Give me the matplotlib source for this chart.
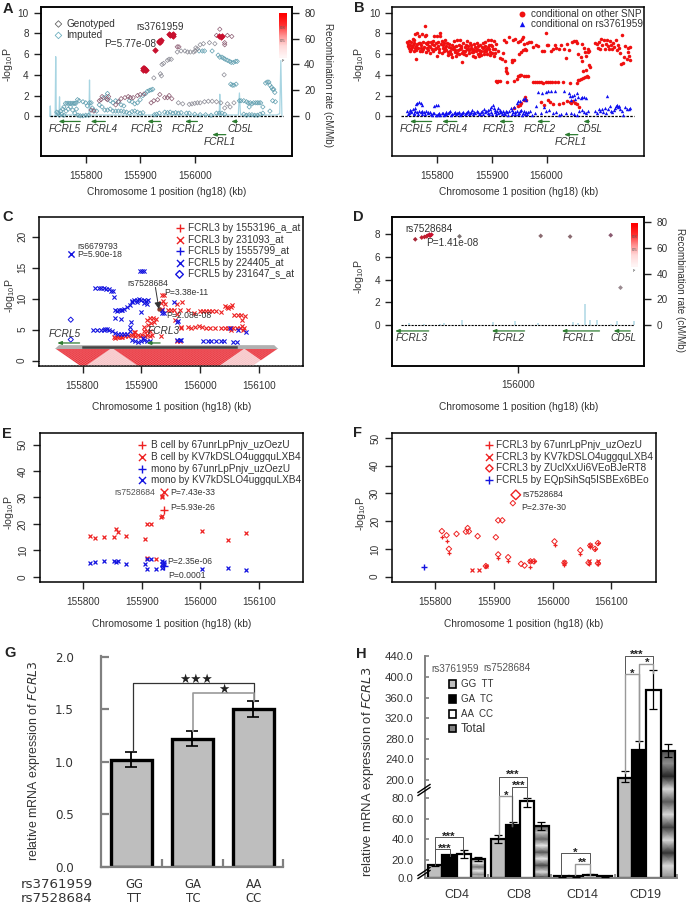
import numpy as np
import matplotlib
matplotlib.use('Agg')
import matplotlib.pyplot as plt
from matplotlib.colors import LinearSegmentedColormap
from matplotlib.lines import Line2D
from matplotlib.patches import Polygon, Rectangle

plt.rcParams['font.family'] = ['Liberation Sans', 'DejaVu Sans']
plt.rcParams['mathtext.default'] = 'regular'
W, H = 686, 906
TXT = '#333333'

# ---------- panel A ----------
A_red = [(155905,4.5),(155906,4.65),(155907,4.7),(155908,4.5),(155909,4.6),(155911,4.45),(155928,6.4),(155934,7.2),(155935,7.3),(155936,7.25),(155937,7.2),(155938,7.35),(155953,7.9),(155955,7.85),(155958,7.8),(155960,7.7),(155961,7.9),(156045,7.7),(156048,7.6),(156050,7.7)]
A_mauve = [(155968,6.7),(155971,6.7),(156046,8.4),(156040,7.8),(156055,7.1),(156055,6.9),(156060,7.8),(156068,7.7),(155810,0.6),(155815,0.5),(155825,1.5),(155828,1.6),(155830,1.9),(155838,1.7),(155840,1.6),(155842,1.9),(155855,1.1),(155860,1.4),(155865,1.7),(155872,1.8),(155878,1.9),(155882,1.8),(155887,1.8),(155895,2.0),(155900,2.1),(155907,2.15),(155920,1.3),(155925,1.5),(155932,1.6),(155936,2.1),(155945,1.8),(155950,1.8),(155953,2.0),(155958,1.7)]
A_grey = [(155925,3.7),(155937,4.1),(155939,3.9),(155940,5.0),(155943,5.1),(155950,5.4),(155953,5.5),(155957,5.5),(155968,6.2),(155975,6.3),(155982,6.3),(155987,6.2),(155992,6.2),(155998,6.2),(156001,6.3),(156005,6.5),(156002,6.6),(156010,6.9),(156016,7.0),(156027,7.1),(156037,7.0),(156054,4.0),(155970,1.3),(155978,1.2),(155990,1.15),(155995,1.2),(156000,1.25),(156005,1.3),(156010,1.3),(156018,1.4),(156025,1.45),(156032,1.45),(156040,1.4),(156048,1.3),(156055,0.8),(156065,0.9),(156060,1.2),(156072,1.3)]
A_teal = [(156008,6.3),(156014,6.3),(156018,6.3),(156032,6.3),(156043,5.9),(156046,5.7),(156050,5.7),(156053,5.6),(156056,5.5),(156060,5.4),(156064,5.3),(156067,5.2),(156071,5.2),(156075,5.3),(156078,5.3),(156066,3.1),(156069,3.0),(156072,3.0),(156076,3.1),
(155747,0.4),(155750,0.3),(155752,0.1),(155754,0.5),(155756,0.2),(155758,0.7),(155760,0.9),(155760,0.1),(155763,1.25),(155766,1.25),(155769,1.25),(155772,1.25),(155775,1.25),(155778,1.25),(155780,1.25),(155782,1.25),(155764,0.5),(155768,0.7),(155772,0.9),(155776,0.6),(155780,0.3),(155783,0.7),(155786,0.1),(155790,0.05),(155795,0.05),(155800,0.1),(155805,0.1),(155785,1.6),(155788,1.5),(155795,1.4),(155800,1.3),(155803,1.0),(155807,1.3),(155810,1.3),(155812,0.8),(155815,0.6),(155820,0.5),(155825,1.1),(155830,0.9),(155833,1.8),(155838,1.9),(155840,2.2),(155845,1.5),(155850,1.3),(155855,1.5),(155860,1.4),(155865,1.1),(155870,1.0),(155835,0.6),(155840,0.6),(155845,0.7),(155850,0.5),(155855,0.5),(155860,0.5),(155865,0.5),(155870,0.45),(155875,0.4),(155880,0.3),(155885,0.45),(155890,0.5),(155895,0.4),(155900,0.3),(155905,0.35),(155880,1.5),(155885,1.4),(155890,1.2),(155895,1.3),(155900,1.6),(155905,2.0),(155910,2.2),(155913,2.4),(155917,2.5),(155920,2.55),(155923,2.6),(155926,0.15),(155930,0.2),(155935,0.3),(155945,0.4),(155950,0.35),(155955,0.4),(155960,0.3),(155965,0.35),(155970,0.3),(155975,0.35),(155985,0.3),(155990,0.3),(156000,0.2),(156010,0.15),(156020,0.15),(156030,0.1),(156040,0.3),(156045,0.3),(156050,0.3),(156055,0.2),
(156082,1.5),(156085,1.5),(156090,1.5),(156095,1.4),(156098,1.3),(156102,1.3),(156105,1.2),(156108,1.3),(156112,1.3),(156115,1.3),(156118,1.3),(156121,1.3),(156125,0.9),(156130,3.2),(156133,3.3),(156136,3.3),(156138,3.0),(156141,2.8),(156143,2.6),(156145,2.6),(156147,2.3),(156143,1.5),(156148,1.4),(156138,0.5),(156090,0.2),(156095,0.1),(156100,0.15),(156105,0.15),(156110,0.1),(156115,0.1),(156120,0.2),(156125,0.3),(156100,0.9)]
recomb_A = [(155734,0),(155735,8),(155736,0),(155744,0),(155745,46),(155746,0),(155751,1),(155752,15),(155753,1),(155775,1),(155795,1),(155806,1),(155807,28),(155808,1),(155830,1),(155860,1),(155900,1),(155940,1),(155980,1),(156020,1),(156045,1),(156046,17),(156047,1),(156060,1),(156080,1),(156082,18),(156084,1),(156100,1),(156130,1),(156150,1),(156156,2),(156158,43),(156160,0)]
genes_AB = ['FCRL5','FCRL4','FCRL3','FCRL2','FCRL1','CD5L']
gene_start_AB = [155750,155809,155913,155982,156032,156067]
gene_end_AB = [155790,155836,155937,156005,156057,156078]
gene_row_AB = [0,0,0,0,1,0]
gene_label_A = [155761,155829,155912,155988,156046,156084]
gene_label_B = [155760,155826,155913,155987,156045,156079]

# ---------- panel B ----------
B_red = [(155745,7.2),(155746,6.8),(155748,7.3),(155749,6.6),(155750,6.9),(155751,6.3),(155752,7.2),(155753,6.5),(155755,7.5),(155756,6.9),(155757,6.3),(155758,7.1),(155759,6.6),(155760,7.9),(155761,5.5),(155762,6.4),(155763,7.0),(155764,8.0),(155765,6.6),(155767,7.7),(155768,6.3),(155769,7.1),(155770,6.6),(155772,7.9),(155773,6.3),(155775,7.2),(155776,6.7),(155777,7.7),(155778,8.75),(155779,6.2),(155780,7.8),(155782,7.0),(155783,6.4),(155785,6.8),(155786,6.1),(155788,7.2),(155790,6.5),(155791,7.0),(155793,7.3),(155795,7.7),(155796,6.5),(155798,7.1),(155799,5.8),(155800,7.7),(155802,6.8),(155803,6.2),(155805,8.0),(155806,7.7),(155807,7.0),(155808,6.1),(155810,6.6),(155812,6.3),(155813,7.1),(155815,7.4),(155816,6.8),(155818,7.1),(155819,6.2),(155820,5.9),(155822,6.7),(155824,6.3),(155825,6.0),(155827,5.7),(155829,6.5),(155830,7.3),(155832,6.2),(155834,5.8),(155835,6.8),(155837,7.4),(155838,6.4),(155840,6.0),(155842,7.4),(155843,6.6),(155845,6.1),(155846,5.2),(155848,7.1),(155850,6.7),(155851,6.3),(155853,5.9),(155855,7.3),(155856,6.5),(155858,6.1),(155860,7.1),(155861,6.6),(155863,6.2),(155865,5.8),(155867,7.0),(155868,6.4),(155870,5.7),(155872,7.1),(155873,6.5),(155875,6.0),(155876,5.8),(155878,6.9),(155880,6.3),(155881,5.9),(155883,7.1),(155884,6.6),(155886,6.0),(155888,7.2),(155889,6.5),(155891,6.0),(155893,7.4),(155894,6.9),(155896,6.2),(155897,5.9),(155899,7.4),(155900,6.8),(155901,6.1),(155903,7.3),(155904,5.8),(155905,6.5),
(155747,7.0),(155750,6.4),(155754,6.7),(155757,7.4),(155761,6.8),(155766,7.1),(155771,6.9),(155774,6.5),(155779,7.1),(155781,6.6),(155784,7.2),(155787,6.7),(155792,6.3),(155794,6.9),(155797,6.6),(155801,7.2),(155804,6.5),(155809,7.3),(155811,6.9),(155814,6.6),(155817,6.4),(155821,7.0),(155823,6.1),(155826,6.6),(155828,6.9),(155831,6.7),(155833,6.4),(155836,6.1),(155839,6.9),(155841,6.5),(155844,6.8),(155847,6.3),(155849,6.0),(155852,6.9),(155854,6.5),(155857,6.8),(155859,6.4),(155862,6.9),(155864,6.5),(155866,6.2),(155869,6.7),(155871,6.3),(155874,6.8),(155877,6.4),(155879,6.1),(155882,6.7),(155885,6.3),(155887,6.8),(155890,6.3),(155892,6.7),(155895,6.5),(155898,6.9),(155902,6.5),(155906,6.1),
(155908,3.4),(155910,3.35),(155912,3.4),(155914,3.45),(155908,7.0),(155912,6.3),(155915,5.6),(155918,5.5),(155920,6.1),(155922,7.4),(155924,5.3),(155925,4.7),(155926,4.4),(155928,4.2),(155928,3.3),(155926,7.2),(155932,7.6),(155936,5.2),(155937,5.4),(155940,5.4),(155938,7.4),(155940,3.4),(155942,7.5),(155945,3.6),(155947,3.9),(155950,3.9),(155952,4.0),(155954,4.0),(155958,3.9),(155962,3.9),(155966,3.9),(155948,7.2),(155952,7.3),(155955,7.5),(155957,7.6),(155950,6.0),(155953,6.2),(155956,6.4),(155960,6.5),(155962,6.4),(155958,7.0),(155964,7.1),(155968,7.2),(155972,7.2),(155975,6.7),(155980,6.9),(155985,6.8),(155975,3.3),(155978,3.3),(155982,3.3),(155986,3.3),(155990,3.3),(155994,3.2),(155998,3.3),(156002,3.3),(156006,3.3),(156010,3.3),(156015,3.3),(156020,3.3),(155992,6.3),(155995,6.3),(156000,6.9),(155998,8.0),(156002,6.9),(156008,6.3),(156012,6.5),(156015,6.9),(156018,6.6),(156022,6.5),(156027,6.9),(156032,6.5),(156030,3.3),(156035,5.6),(156038,7.0),(156040,6.4),(156043,3.2),(156047,7.2),(156050,7.3),(156053,7.3),(156055,7.1),(156058,3.5),(156055,3.2),(156060,3.5),(156058,6.0),(156062,5.7),(156065,5.3),(156062,3.6),(156066,3.7),(156070,3.8),(156073,3.9),(156076,3.8),(156067,4.4),(156068,6.6),(156070,6.2),(156072,5.8),(156072,4.5),(156077,4.9),(156075,6.5),(156078,6.3),(156080,4.8),(156065,7.0),(156075,6.2),
(156088,7.1),(156092,7.0),(156094,6.6),(156096,7.2),(156098,6.5),(156100,7.5),(156102,6.9),(156104,7.4),(156106,6.5),(156108,7.0),(156110,7.4),(156112,6.8),(156114,6.5),(156116,7.3),(156118,6.9),(156120,6.5),(156122,7.1),(156124,6.7),(156126,7.4),(156128,6.4),(156130,6.9),(156132,6.6),(156134,6.1),(156136,5.0),(156138,7.8),(156139,5.1),(156141,5.7),(156144,6.8),(156146,5.5),(156148,6.2),(156149,6.6),(156150,5.8),(156152,5.4),(156153,6.7),
(155948,1.0),(155951,1.1),(155954,1.3),(155958,1.6),(155960,1.9),(155963,1.6),(155990,1.4),(155995,1.1),(156002,1.6),(156007,1.4),(156012,1.2),(156022,1.2),(156030,1.3),(156038,1.5),(156042,1.4),(156045,1.3),(156048,1.5),(156052,1.3),(156056,1.2),(156060,0.9),(155940,0.8)]
B_blue = [(155745,0.5),(155748,0.3),(155750,0.6),(155752,0.4),(155755,0.7),(155757,0.3),(155759,0.5),(155760,0.8),(155762,1.2),(155764,1.3),(155767,1.35),(155770,1.3),(155773,1.1),(155763,0.4),(155766,0.5),(155770,0.4),(155773,0.5),(155776,0.4),(155780,0.5),(155783,0.3),(155786,0.4),(155790,0.1),(155795,1.0),(155798,1.1),(155802,1.1),(155795,0.3),(155800,0.15),(155803,0.3),(155806,0.1),(155810,0.35),(155814,0.2),(155817,0.4),(155820,0.3),(155824,0.5),(155828,0.2),(155832,0.4),(155836,0.3),(155840,0.45),(155844,0.2),(155848,0.4),(155852,0.3),(155856,0.5),(155860,0.3),(155864,0.6),(155867,0.4),(155870,0.3),(155874,0.4),(155878,0.2),(155882,0.5),(155886,0.7),(155890,0.5),(155893,0.3),(155896,0.7),(155899,0.9),(155902,1.1),(155904,0.8),(155906,0.6),(155909,0.5),(155912,0.8),(155915,0.4),(155918,0.2),(155922,0.35),(155926,0.5),(155930,0.15),(155934,0.8),(155937,0.6),(155940,0.9),(155943,0.4),(155946,1.3),(155948,1.5),(155951,1.5),(155954,0.6),(155957,1.7),(155960,1.8),(155963,1.6),(155966,0.4),(155950,0.3),(155955,0.15),(155960,0.25),(155965,0.2),(155970,0.5),(155974,0.15),(155978,0.3),(155980,1.0),(155985,2.3),(155989,0.3),(155992,2.2),(155995,0.9),(155998,2.3),(155998,0.5),(156002,2.4),(156005,0.6),(156008,2.4),(156012,0.3),(156015,2.4),(156018,0.4),(156023,0.1),(156027,0.2),(156032,2.4),(156035,0.3),(156040,2.2),(156042,2.0),(156045,1.6),(156047,2.0),(156050,2.1),(156052,1.7),(156055,2.2),(156058,1.9),(156062,1.8),(156065,1.9),(156068,1.85),(156072,1.8),(156044,0.3),(156050,0.2),(156056,0.15),(156060,0.5),(156064,0.6),(156068,0.4),(156072,0.3),(156076,0.5),(156088,0.5),(156092,0.3),(156095,0.7),(156098,0.5),(156101,0.75),(156103,0.4),(156106,0.8),(156108,0.3),(156110,2.0),(156113,0.7),(156115,1.0),(156118,0.5),(156120,0.4),(156123,0.6),(156125,0.8),(156127,1.0),(156129,1.1),(156131,0.9),(156133,1.0),(156135,0.7),(156137,0.5),(156140,0.1),(156144,0.9),(156147,0.7),(156150,0.7),(156152,0.8),
(155747,0.2),(155753,0.5),(155758,0.2),(155765,0.25),(155772,0.2),(155778,0.2),(155784,0.45),(155788,0.2),(155792,0.35),(155797,0.1),(155802,0.2),(155808,0.3),(155812,0.1),(155816,0.25),(155822,0.4),(155826,0.15),(155830,0.3),(155834,0.2),(155838,0.35),(155842,0.15),(155846,0.35),(155850,0.2),(155854,0.4),(155858,0.2),(155862,0.45),(155866,0.25),(155872,0.5),(155876,0.25),(155880,0.4),(155884,0.2),(155888,0.4),(155892,0.6),(155895,0.2),(155898,0.45),(155901,0.2),(155905,0.4),(155908,0.2),(155911,0.3),(155914,0.6),(155917,0.4),(155920,0.5),(155924,0.2),(155928,0.4),(155932,0.5),(155936,0.2),(155939,0.4),(155942,0.2),(155945,0.5),(155948,0.25),(155952,0.5),(155956,0.35),(155959,0.5),(155962,0.4)]

# ---------- panel C ----------
C_red_x = [(155853,3.8),(155856,3.7),(155859,3.8),(155862,3.8),(155865,3.8),(155868,3.8),(155872,3.9),(155878,4.0),(155882,4.1),(155886,4.1),(155890,4.0),(155894,4.1),(155898,4.0),(155902,4.1),(155906,4.0),(155910,4.1),(155914,4.0),(155918,4.1),(155887,4.6),(155890,4.6),(155905,4.7),(155910,4.8),(155915,4.8),(155905,5.5),(155912,5.7),(155917,6.0),(155910,6.5),(155915,6.9),(155920,6.9),(155925,6.7),(155922,6.2),(155933,4.0),(155935,10.6),(155938,10.5),(155933,9.3),(155937,9.6),(155941,9.2),(155935,8.3),(155945,8.1),(155950,8.2),(155955,8.2),(155960,9.1),(155970,9.4),(155965,8.2),(155960,7.5),(155958,6.6),(155968,5.4),(155968,5.2),(155980,5.5),(155985,5.2),(155992,5.4),(155998,5.6),(156003,5.4),(156010,5.2),(156017,5.3),(156025,5.2),(155980,8.1),(155990,7.7),(156000,8.0),(156005,8.0),(156010,8.0),(156015,8.0),(156020,8.0),(156027,8.0),(156035,7.8),(156042,8.8),(156045,8.6),(156048,8.5),(156052,8.7),(156055,8.9),(156058,7.3),(156065,7.3),(156070,7.3),(156076,7.2),(156072,6.6),(156035,5.2),(156042,5.3),(156048,5.3),(156052,5.3),(156056,5.3),(156062,5.3),(156068,5.3),(156072,5.6),(156075,5.3),(156052,5.0),(156073,4.9),(155960,3.1),(155966,3.1)]
C_blue_x = [(155821,11.7),(155828,11.7),(155832,11.7),(155836,11.7),(155840,11.6),(155845,11.5),(155848,11.2),(155851,11.2),(155853,10.2),(155856,8.1),(155859,8.0),(155862,8.1),(155865,8.1),(155868,8.2),(155871,8.3),(155875,8.6),(155880,9.0),(155898,14.5),(155901,14.5),(155904,14.5),(155885,9.6),(155888,9.8),(155892,9.8),(155896,9.9),(155900,9.8),(155904,9.7),(155908,9.6),(155912,9.8),(155885,9.4),(155892,9.5),(155904,9.3),(155910,9.2),(155900,7.9),(155855,6.8),(155865,6.7),(155880,5.4),(155883,6.2),(155818,4.9),(155825,4.9),(155832,4.9),(155836,5.0),(155838,5.1),(155842,5.1),(155845,5.0),(155850,4.8),(155855,4.4),(155860,4.3),(155865,4.3),(155870,4.3),(155875,4.3),(155880,4.8),(155885,3.4),(155890,3.1),(155895,3.0),(155900,3.2),(155903,3.6),(155905,3.4),(155910,3.1),(155915,3.1),(155935,8.1),(155936,7.7),(155939,7.6),(155955,9.5),(155960,6.3),(155963,6.4),(155960,3.4),(155965,3.3),(155968,3.3),(156005,3.2),(156013,3.2),(156018,3.2),(156027,3.2),(156036,3.1),(156040,3.1),(156056,3.0),(156063,3.0),(156050,5.3),(156065,5.0),(156078,4.6)]
C_big_x = [(155780,17.2)]
C_blue_d = [(155780,6.6),(155780,3.4)]
C_lead = [(155930,8.3)]
ld_blocks_start = [155755,155853,156076]
ld_blocks_end = [155847,156074,156131]
ld_span = (155755,156131)

# ---------- panel D ----------
D_points = [(155926.4,7.54),(155931,7.7),(155933,7.75),(155934.5,7.8),(155935,7.85),(155936.5,7.95),(155937,7.85),(155938,7.95),(155958,7.8),(156016,7.84),(156037,7.78),(156066,7.9),(156073,3.3)]
D_point_colors = ['#A82838','#C02030','#C02030','#C02030','#C02030','#C8102E','#C8102E','#C8102E','#7A7070','#8A6A70','#8A6A70','#8A5A70','#9A8A90']
recomb_D = [(155922,1.5),(155933,1.2),(155944,1.3),(155947,1.8),(155960,3.9),(155982,2.3),(155998,3.5),(156014,1.4),(156039,2.7),(156043,1.6),(156048,16.5),(156051,4.2),(156056,4.2),(156066,1.1),(156070.5,3.4),(156083,3.6)]
genes_D = ['FCRL3','FCRL2','FCRL1','CD5L']
gene_start_D = [155912,155981,156031,156068]
gene_end_D = [155936,156004.5,156058,156080]
gene_label_D = [155924,155993,156043,156075]

# ---------- panel E ----------
E_red_plus = [(155938,25.4)]
E_red_x = [(155812,15.5),(155821,14.8),(155836,14.9),(155853,14.9),(155855.5,18.2),(155859,17.0),(155872.5,15.3),(155905,14.4),(155909,19.9),(155915,19.8),(155934,30.0),(155935,30.5),(155934,23.1),(155933,22.7),(156003,17.4),(156047.5,14.0),(156078,16.7),(155909,7.2),(155925,6.6)]
E_big_x = [(155938,32.2)]
E_blue_plus = [(155938,4.0)]
E_blue_x = [(155812,5.2),(155821,5.7),(155836,5.9),(155853,5.8),(155855.5,5.4),(155859,5.9),(155872.5,4.9),(155905,4.7),(155909,2.9),(155909,6.7),(155915,6.6),(155925,3.0),(155934,5.9),(155938,5.7),(155935,4.9),(155934,3.5),(155938,4.8),(156003,3.0),(156047.5,3.5),(156078,2.7)]

# ---------- panel F ----------
F_dia = [(155811,16.4),(155819,14.9),(155823,10.0),(155836,15.4),(155852,16.2),(155855,17.5),(155857,16.3),(155872,14.6),(155886,3.8),(155903,14.2),(155907,20.3),(155914,20.3),(155907,8.0),(155924,7.0),(155932,26.5),(155946,4.6),(155952,4.0),(155962,5.5),(155968,5.5),(156003,12.7),(156020,5.0),(156047,9.5),(156061,5.0),(156064,11.2),(156072,10.0),(156077,12.1),(156077,4.8)]
F_big_dia = [(155937,29.5)]
F_plus = [(155811,14.2),(155819,13.0),(155823,8.7),(155886,3.9),(155907,6.7),(155924,5.5),(155962,3.6),(155968,5.6),(156003,11.3),(156020,4.3),(156047,8.2),(156061,4.6),(156064,10.7),(156072,10.1),(156077,12.2),(156077,4.6)]
F_x = [(155862,2.5),(155874,2.5),(155886,4.0),(155962,5.8),(156020,5.4),(156061,5.5),(156077,5.5),(156064,11.4)]
F_blue = [(155780,3.6)]

# ---------- panel G ----------
G_genotype1 = ['GG','GA','AA']
G_genotype2 = ['TT','TC','CC']
G_values = [1.02,1.22,1.50]
G_errors = [0.068,0.07,0.076]

# ---------- panel H ----------
H_cells = ['CD4','CD8','CD14','CD19']
H_GG = [14,40,2,203]
H_GA = [24,53.5,2,259]
H_AA = [25.8,77,3.6,375]
H_total = [20.5,53,2,257]
H_err_GG = [0.6,4,0.3,15]
H_err_GA = [0.4,3.5,0.3,16]
H_err_AA = [4,6,0.5,38]
H_err_total = [2,4,0.3,13]
H_ticks = [0,20,40,60,80,200,240,280,320,360,400,440]


def ax_px(l, t, r, b):
    return fig.add_axes([l / W, 1 - b / H, (r - l) / W, (b - t) / H])

def xy(p):
    return [q[0] for q in p], [q[1] for q in p]

def px_line(xs, ys, color='#333333', lw=0.8):
    fig.add_artist(Line2D([x / W for x in xs], [1 - y / H for y in ys], color=color, lw=lw))

def px_text(x, y, s, **kw):
    kw.setdefault('color', TXT)
    kw.setdefault('ha', 'center')
    kw.setdefault('va', 'center')
    fig.text(x / W, 1 - y / H, s, **kw)

def style(ax, fs=7.2):
    for s in ax.spines.values():
        s.set_linewidth(1.1)
    ax.tick_params(labelsize=fs, length=5, width=1, colors='#222222', labelcolor=TXT)
    ax.tick_params(axis='x', pad=5.5)
    ax.tick_params(axis='y', pad=3.8)

def xlab(ax, drop, height):
    ax.set_xlabel('Chromosome 1 position (hg18) (kb)', fontsize=7.3, color=TXT, va='center')
    ax.xaxis.set_label_coords(0.5, -drop / height)

def ylab(ax, frac, xpx):
    ax.set_ylabel('-log$_{10}$P', fontsize=7.6, color=TXT, va='center')
    ax.yaxis.set_label_coords(xpx, frac)

def genes(ax, names, starts, ends, rows, labels, y0, dy, ty, fs=7.3, col='#2E7D32'):
    for n, s, e, r, lx in zip(names, starts, ends, rows, labels):
        ax.annotate('', xy=(s, y0 - dy * r), xytext=(e, y0 - dy * r),
                    arrowprops=dict(arrowstyle='-|>,head_width=0.1,head_length=0.25', color=col, lw=0.9, shrinkA=0, shrinkB=0), zorder=7)
        ax.text(lx, ty - dy * r, n, style='italic', ha='center', va='center', fontsize=fs, color=TXT, zorder=9)

def ld_bar(l, t, r, b):
    a = ax_px(l, t, r, b)
    cm = LinearSegmentedColormap.from_list('ld', ['#FF0000', '#FF3030', '#FF9090', '#FFD8D8', '#FFF4F4'])
    a.imshow(np.linspace(0, 1, 12)[:, None], aspect='auto', cmap=cm, interpolation='bilinear')
    a.axis('off')
    return a

fig = plt.figure(figsize=(W / 100, H / 100), dpi=100, facecolor='white')

# A -------------------------------------------------------------
a = ax_px(41, 7, 292, 156)
style(a)
a.set_xlim(155718, 156178.5); a.set_ylim(-3.83, 10.54)
a.set_xticks([155800, 155900, 156000]); a.set_yticks([0, 2, 4, 6, 8, 10])
xlab(a, 36, 149)
ylab(a, 0.61, -33 / 251)
rx, ry = xy(recomb_A)
a.plot(rx, np.array(ry) / 8, color='#A8D5E2', lw=0.9, zorder=1)
a.axhline(0, xmin=0.037, xmax=0.965, color='k', ls=(0, (2, 1)), lw=0.9, zorder=2)
for pts, c, s in [(A_teal, '#5F9EAF', 5), (A_grey, '#8A8A94', 5), (A_mauve, '#8A5A70', 5), (A_red, '#C8102E', 8)]:
    x, y = xy(pts)
    a.scatter(x, y, s=s, marker='D', facecolors='none' if s == 5 else c, edgecolors=c, linewidths=0.5, zorder=3)
genes(a, genes_AB, gene_start_AB, gene_end_AB, gene_row_AB, gene_label_A, -0.5, 1.27, -1.22)
a.scatter([155750, 155750], [8.9, 7.8], s=11, marker='D', facecolors='none',
          edgecolors=['#666666', '#6FB0C0'], linewidths=0.6)
a.text(155765, 8.9, 'Genotyped', fontsize=7.2, va='center', color=TXT)
a.text(155765, 7.8, 'Imputed', fontsize=7.2, va='center', color=TXT)
a.text(155936, 8.65, 'rs3761959', fontsize=7.2, ha='center', va='center', color=TXT)
a.text(155833.5, 6.95, 'P=5.77e-08', fontsize=7.2, ha='left', va='center', color=TXT)
ar = a.twinx(); style(ar)
ar.set_ylim(-3.83 * 8, 10.54 * 8); ar.set_yticks([0, 20, 40, 60, 80])
ar.set_ylabel('Recombination rate (cM/Mb)', fontsize=7.1, color=TXT, rotation=270, va='center')
ar.yaxis.set_label_coords(1 + 36 / 251, 0.476)
ld_bar(279.3, 13.3, 286.7, 58)
px_text(283, 27.7, '0.8', fontsize=3, color='#555555'); px_text(283, 40.7, '0.5', fontsize=3, color='#555555')
px_text(283, 60.5, 'r²', fontsize=3.5, color='#555555')

# B -------------------------------------------------------------
b = ax_px(392.3, 7, 644.3, 156)
style(b)
b.set_xlim(155718, 156178.5); b.set_ylim(-3.83, 10.54)
b.set_xticks([155800, 155900, 156000]); b.set_yticks([0, 2, 4, 6, 8, 10])
xlab(b, 36, 149)
ylab(b, 0.61, -33 / 252)
b.axhline(0, xmin=0.036, xmax=0.96, color='k', ls=(0, (2, 1)), lw=0.9, zorder=2)
x, y = xy(B_red); b.scatter(x, y, s=6.5, color='#F01010', lw=0, zorder=3)
x, y = xy(B_blue); b.scatter(x, y, s=6, marker='^', color='#1010F0', lw=0, zorder=3)
genes(b, genes_AB, gene_start_AB, gene_end_AB, gene_row_AB, gene_label_B, -0.5, 1.27, -1.22)
b.scatter([155955], [9.87], s=18, color='#F01010', lw=0)
b.scatter([155955], [8.94], s=15, marker='^', color='#1010F0', lw=0)
b.text(155971, 9.87, 'conditional on other SNP', fontsize=7.2, va='center', color=TXT)
b.text(155971, 8.94, 'conditional on rs3761959', fontsize=7.2, va='center', color=TXT)

# C -------------------------------------------------------------
c = ax_px(39.3, 217.3, 303.3, 366)
style(c)
c.set_xlim(155726.5, 156175.5); c.set_ylim(-0.86, 23.1)
c.set_xticks([155800, 155900, 156000, 156100]); c.set_yticks([0, 5, 10, 15, 20])
c.tick_params(axis='y', labelrotation=90)
for t in c.get_yticklabels():
    t.set_va('center')
xlab(c, 41, 148.7)
ylab(c, 0.47, -29 / 264)
S0, S1 = ld_span
slope = 0.0655
top = 1.88
c.add_patch(Polygon([(S0, top), (S1, top), ((S0 + S1) / 2, top - slope * (S1 - S0) / 2)], fc='#F7BFC2', ec='none', zorder=1))
for s, e_ in zip(ld_blocks_start, ld_blocks_end):
    c.add_patch(Polygon([(s, top), (e_, top), ((s + e_) / 2, top - slope * (e_ - s) / 2)], fc='#E8202A', ec='none', zorder=2))
for d0 in range(S0, S1, 5):
    c.plot([d0, d0 + 45], [top, top - 45 * slope], color='white', lw=0.25, alpha=0.5, zorder=3)
    c.plot([d0, d0 - 45], [top, top - 45 * slope], color='white', lw=0.25, alpha=0.5, zorder=3)
c.add_patch(Polygon([(S0 - 2, top), (S1 + 2, top), (S1 - 5, top + 0.62), (S0 + 5, top + 0.62)], fc='#B0B0B0', ec='none', zorder=4))
c.plot([S0 + 45, S1 - 70], [top + 0.3, top + 0.3], color='#444444', lw=1.8, zorder=5)
x, y = xy(C_red_x); c.scatter(x, y, s=9, marker='x', color='#EE2222', lw=0.8, zorder=6)
x, y = xy(C_blue_x); c.scatter(x, y, s=9, marker='x', color='#1414E0', lw=0.8, zorder=6)
x, y = xy(C_blue_d); c.scatter(x, y, s=7, marker='D', facecolors='none', edgecolors='#1414E0', lw=0.7, zorder=6)
x, y = xy(C_lead); c.scatter(x, y, s=10, color='#8B3A2B', lw=0, zorder=7)
x, y = xy(C_big_x); c.scatter(x, y, s=20, marker='x', color='#1414E0', lw=1, zorder=7)
genes(c, ['FCRL5'], [155757], [155795], [0], [155770.5], 2.85, 0, 4.3)
genes(c, ['FCRL3'], [155909], [155932], [0], [155938], 2.85, 0, 4.84)
c.annotate('', xy=(155930, 8.3), xytext=(155924, 11.8), arrowprops=dict(arrowstyle='-|>', color='#333333', lw=0.7, shrinkA=0, shrinkB=0), zorder=8)
c.text(155791.5, 18.4, 'rs6679793', fontsize=6.2, va='center', color=TXT, zorder=9)
c.text(155791.5, 17.1, 'P=5.90e-18', fontsize=6.2, va='center', color=TXT, zorder=9)
c.text(155877, 12.5, 'rs7528684', fontsize=6.2, va='center', color=TXT, zorder=9)
c.text(155939, 11.0, 'P=3.38e-11', fontsize=6.2, va='center', color=TXT, zorder=9)
c.text(155943, 7.2, 'P=2.08e-08', fontsize=6.2, va='center', color=TXT, zorder=9)
c_leg = [('+', '#EE2222', 'FCRL3 by 1553196_a_at'), ('x', '#EE2222', 'FCRL3 by 231093_at'), ('+', '#1414E0', 'FCRL5 by 1555799_at'),
         ('x', '#1414E0', 'FCRL5 by 224405_at'), ('D', '#1414E0', 'FCRL5 by 231647_s_at')]
for i, (m, col, t) in enumerate(c_leg):
    yy = 21.3 - 1.85 * i
    c.scatter([155965], [yy], s=26 if m != 'D' else 15, marker=m, facecolors='none' if m == 'D' else col, edgecolors=col, lw=1, zorder=8)
    c.text(155979, yy, t, fontsize=7.2, va='center', color=TXT, zorder=9)

# D -------------------------------------------------------------
d = ax_px(392.3, 217, 644.3, 365.7)
style(d)
d.set_xlim(155910, 156090); d.set_ylim(-3.55, 9.5)
d.set_xticks([156000]); d.set_yticks([0, 2, 4, 6, 8])
xlab(d, 41, 148.7)
ylab(d, 0.6, -33 / 252)
rx, ry = xy(recomb_D)
d.vlines(rx, 0, np.array(ry) / 8.85, color='#BFE0EA', lw=1.4, zorder=1)
d.axhline(0, xmin=0.036, xmax=0.96, color='k', ls=(0, (2, 1)), lw=0.8, zorder=2)
x, y = xy(D_points)
d.scatter(x, y, s=6, marker='D', color=D_point_colors, lw=0, zorder=3)
genes(d, genes_D, gene_start_D, gene_end_D, [0, 0, 0, 0], gene_label_D, -0.5, 0, -1.08)
d.text(155919, 8.45, 'rs7528684', fontsize=7.2, va='center', color=TXT)
d.text(155934, 7.18, 'P=1.41e-08', fontsize=7.2, va='center', color=TXT)
dr = d.twinx(); style(dr)
dr.set_ylim(-3.55 * 8.85, 9.5 * 8.85); dr.set_yticks([0, 20, 40, 60, 80])
dr.set_ylabel('Recombination rate (cM/Mb)', fontsize=7.1, color=TXT, rotation=270, va='center')
dr.yaxis.set_label_coords(1 + 36 / 252, 0.51)
ld_bar(631.3, 223.3, 638, 266.7)
px_text(634.7, 237, '0.8', fontsize=3, color='#555555'); px_text(634.7, 249.7, '0.5', fontsize=3, color='#555555')
px_text(634.7, 270, 'r²', fontsize=3.5, color='#555555')

# E -------------------------------------------------------------
e = ax_px(40, 433.3, 303.3, 582.3)
style(e)
e.set_xlim(155726.5, 156175.5); e.set_ylim(-2.1, 54.3)
e.set_xticks([155800, 155900, 156000, 156100]); e.set_yticks([0, 10, 20, 30, 40, 50])
e.tick_params(axis='y', labelrotation=90)
for t in e.get_yticklabels():
    t.set_va('center')
xlab(e, 41.7, 149)
ylab(e, 0.47, -31 / 263)
x, y = xy(E_red_x); e.scatter(x, y, s=8, marker='x', color='#EE2222', lw=0.9, zorder=3)
x, y = xy(E_big_x); e.scatter(x, y, s=30, marker='x', color='#EE2222', lw=1, zorder=3)
x, y = xy(E_red_plus); e.scatter(x, y, s=36, marker='+', color='#EE2222', lw=1, zorder=3)
x, y = xy(E_blue_x); e.scatter(x, y, s=8, marker='x', color='#1414E0', lw=0.9, zorder=3)
x, y = xy(E_blue_plus); e.scatter(x, y, s=36, marker='+', color='#1414E0', lw=1, zorder=3)
e.text(155923.5, 31.9, 'rs7528684', fontsize=6.2, ha='right', va='center', color='#555555')
e.text(155948, 31.9, 'P=7.43e-33', fontsize=6.2, va='center', color=TXT)
e.text(155948, 26.1, 'P=5.93e-26', fontsize=6.2, va='center', color=TXT)
e.text(155943, 5.9, 'P=2.35e-06', fontsize=6.2, va='center', color=TXT)
e.text(155945, 0.5, 'P=0.0001', fontsize=6.2, va='center', color=TXT)
e_leg = [('+', '#EE2222', 'B cell by 67unrLpPnjv_uzOezU'), ('x', '#EE2222', 'B cell by KV7kDSLO4uggquLXB4'),
         ('+', '#1414E0', 'mono by 67unrLpPnjv_uzOezU'), ('x', '#1414E0', 'mono by KV7kDSLO4uggquLXB4')]
for i, (m, col, t) in enumerate(e_leg):
    yy = 49.7 - 4.4 * i
    e.scatter([155900], [yy], s=26, marker=m, color=col, lw=1, zorder=8)
    e.text(155915, yy, t, fontsize=7.2, va='center', color=TXT)

# F -------------------------------------------------------------
f = ax_px(392.3, 433.3, 655.7, 582.3)
style(f)
f.set_xlim(155726.5, 156175.5); f.set_ylim(-2.05, 51.7)
f.set_xticks([155800, 155900, 156000, 156100]); f.set_yticks([0, 10, 20, 30, 40, 50])
f.tick_params(axis='y', labelrotation=90)
for t in f.get_yticklabels():
    t.set_va('center')
xlab(f, 41.7, 149)
ylab(f, 0.46, -31 / 263)
x, y = xy(F_dia); f.scatter(x, y, s=8, marker='D', facecolors='none', edgecolors='#EE2222', lw=0.7, zorder=3)
x, y = xy(F_big_dia); f.scatter(x, y, s=24, marker='D', facecolors='none', edgecolors='#EE2222', lw=1, zorder=3)
x, y = xy(F_plus); f.scatter(x, y, s=12, marker='+', color='#EE2222', lw=0.9, zorder=3)
x, y = xy(F_x); f.scatter(x, y, s=8, marker='x', color='#EE2222', lw=0.9, zorder=3)
x, y = xy(F_blue); f.scatter(x, y, s=14, marker='+', color='#1414E0', lw=1, zorder=3)
f.text(155948, 29.6, 'rs7528684', fontsize=6.2, va='center', color=TXT)
f.text(155947, 25.0, 'P=2.37e-30', fontsize=6.2, va='center', color=TXT)
f_leg = [('+', '#EE2222', 'FCRL3 by 67unrLpPnjv_uzOezU'), ('x', '#EE2222', 'FCRL3 by KV7kDSLO4uggquLXB4'),
         ('D', '#EE2222', 'FCRL3 by ZUclXxUi6VEoBJeRT8'), ('+', '#1414E0', 'FCRL5 by EQpSihSq5ISBEx6BEo')]
for i, (m, col, t) in enumerate(f_leg):
    yy = 47.4 - 4.17 * i
    f.scatter([155892], [yy], s=26 if m != 'D' else 14, marker=m, facecolors='none' if m == 'D' else col, edgecolors=col, lw=1, zorder=8)
    f.text(155903, yy, t, fontsize=7.2, va='center', color=TXT)

# G -------------------------------------------------------------
GREY = '#808080'
g = ax_px(100.7, 656, 283, 866.7)
g.patch.set_alpha(0)
g.set_xlim(-0.5, 2.49); g.set_ylim(0, 2.007)
for s in ['top', 'right']:
    g.spines[s].set_visible(False)
for s in ['left', 'bottom']:
    g.spines[s].set_color(GREY); g.spines[s].set_linewidth(1.6)
g.bar(range(3), G_values, width=0.67, color='#BEBEBE', edgecolor='k', linewidth=2.4, zorder=2)
g.errorbar(range(3), G_values, yerr=G_errors, fmt='none', ecolor='k', elinewidth=1.3, capsize=4.2, capthick=1.2, zorder=3)
g.set_xticks([0.5, 1.5, 2.49]); g.set_xticklabels([])
g.set_yticks([0, 0.5, 1, 1.5, 2]); g.set_yticklabels(['0.0', '0.5', '1.0', '1.5', '2.0'])
g.tick_params(axis='both', direction='in', length=6, width=1.6, color=GREY, labelsize=8.6, labelcolor=TXT)
g.tick_params(axis='y', pad=19.5)
for t in g.get_yticklabels():
    t.set_fontfamily('DejaVu Sans')
g.set_ylabel('relative mRNA expression of $\\mathit{FCRL3}$', fontsize=8.9, color=TXT, va='center')
g.yaxis.set_label_coords(-66.5 / 182.3, 0.503)
px_line([133.3, 133.3, 254, 254], [751, 682.7, 682.7, 701], color='#333333', lw=0.9)
px_line([192.7, 192.7, 254, 254], [731, 692.7, 692.7, 701], color='#999999', lw=1.2)
px_text(196, 679, '★★★', fontsize=9, color='#222222', family='DejaVu Sans')
px_text(223.5, 689, '★', fontsize=9, color='#222222', family='DejaVu Sans')
for yy, lab, vals in [(884, 'rs3761959', G_genotype1), (899, 'rs7528684', G_genotype2)]:
    px_text(56.5, yy, lab, fontsize=9.6, family='DejaVu Sans')
    for xx, v in zip([134, 193, 254], vals):
        px_text(xx, yy, v, fontsize=8.4, family='DejaVu Sans')

# H -------------------------------------------------------------
bp_val = [0, 20, 80, 200, 440]
bp_px = [0, 18.5, 79.3, 97.3, 219.3]
def fwd(v):
    return np.interp(v, bp_val, bp_px)
def inv(p):
    return np.interp(p, bp_px, bp_val)
h = ax_px(424.7, 656.5, 677.3, 878.3)
h.patch.set_alpha(0)
h.set_yscale('function', functions=(fwd, inv))
h.set_xlim(-0.505, 3.49); h.set_ylim(0, 444)
for s in ['top', 'right']:
    h.spines[s].set_visible(False)
for s in ['left', 'bottom']:
    h.spines[s].set_color(GREY); h.spines[s].set_linewidth(1.4)
bw = 0.2265
idx = np.arange(4)
series = [(H_GG, H_err_GG, '#BEBEBE', -1.5), (H_GA, H_err_GA, 'k', -0.5), (H_AA, H_err_AA, 'white', 0.5)]
stops = {0: [.95, .55, .9, .45, .9, .5], 1: [.25, .85, .3, .9, .35, .9, .4, .75, .3], 3: [.55, .85, .2, .85, .25, .85, .35, .85, .15, .55, .3]}
for i in idx:
    st = stops.get(int(i))
    if st is None:
        continue
    xs = [i + bw, i + 2 * bw]
    ys = inv(np.linspace(0, fwd(H_total[i]), len(st)))
    cm = np.tile(np.array(st)[:, None], (1, 2))
    h.pcolormesh(xs, ys, cm, cmap='gray', vmin=0, vmax=1, shading='gouraud', zorder=1.5)
h.bar(idx + bw * 1.5, H_total, width=bw, facecolor='none', edgecolor='k', linewidth=1.6, zorder=2)
h.errorbar(idx + 1.5 * bw, H_total, yerr=H_err_total, fmt='none', ecolor='k', elinewidth=0.9, capsize=3, capthick=0.9, zorder=3)
for vals, errs, col, off in series:
    h.bar(idx + off * bw, vals, width=bw, color=col, edgecolor='k', linewidth=1.6, zorder=2)
    h.errorbar(idx + off * bw, vals, yerr=errs, fmt='none', ecolor='k', elinewidth=0.9, capsize=3, capthick=0.9, zorder=3)
h.set_xticks([0.5, 1.5, 2.5, 3.49], minor=False); h.set_xticklabels([])
h.set_yticks(H_ticks); h.set_yticklabels([f'{v:.1f}' for v in H_ticks])
h.minorticks_off()
h.tick_params(axis='both', direction='in', length=3, width=1.2, color=GREY, labelsize=8.2, labelcolor=TXT, pad=8)
h.set_ylabel('relative mRNA expression of $\\mathit{FCRL3}$', fontsize=9.4, color=TXT, va='center')
h.yaxis.set_label_coords(-56.7 / 252.6, 0.48)
for xx, n in zip([457, 519, 582, 645], H_cells):
    px_text(xx, 894.5, n, fontsize=9)
# axis break marks
for yb in [873, 790]:
    for dy_ in (-1.5, 1.5):
        px_line([418, 430], [yb + 4 + dy_, yb - 4 + dy_], color='k', lw=1)
Z = lambda zx, zy: (343 + zx / 3, 630 + zy / 3)
def bracket(x1, x2, top_, y1, y2, col='#555555', lw=0.7):
    X1, T = Z(x1, top_); X2, Y2 = Z(x2, y2); _, Y1 = Z(x1, y1)
    px_line([X1, X1, X2, X2], [Y1, T, T, Y2], color=col, lw=lw)
bracket(276, 360, 622, 705, 672)
bracket(276, 320, 658, 705, 677)
bracket(468, 553, 440, 620, 516)
bracket(468, 508, 498, 620, 587, col='#999999', lw=1)
bracket(508, 553, 470, 587, 516)
bracket(655, 740, 670, 738, 735)
bracket(695, 740, 702, 735, 735, col='#999999', lw=1)
bracket(845, 930, 78, 428, 130)
bracket(845, 888, 133, 428, 335, col='#999999', lw=1)
bracket(888, 930, 103, 335, 130, col='#999999', lw=1)
for zx, zy, s in [(318, 613, '***'), (305, 649, '***'), (508, 427, '***'), (490, 489, '*'), (528, 459, '***'), (696, 660, '*'), (718, 691, '**'), (881, 68, '***'), (867, 124, '*'), (912, 92, '*')]:
    X, Y = Z(zx, zy)
    px_text(X, Y + 2.5, s, fontsize=8.2, fontweight='bold', color='#222222')
px_text(*Z(337, 117), 'rs3761959', fontsize=7.2, color='#555555')
px_text(*Z(492, 115), 'rs7528684', fontsize=7.2, color='#555555')
for zy, col, lab, fs in [(162, '#BEBEBE', 'GG  TT', 7), (207, 'k', 'GA  TC', 7), (252, 'white', 'AA  CC', 7), (296, '#808080', 'Total', 8.6)]:
    X, Y = Z(329, zy)
    fig.add_artist(Rectangle(((X - 3.7) / W, 1 - (Y + 3.7) / H), 7.4 / W, 7.4 / H, fc=col, ec='k', lw=1.2, transform=fig.transFigure))
    px_text(X + 8, Y, lab, fontsize=fs, ha='left')

# panel letters
for s, x, y in [('A', 7.5, 9), ('B', 359.5, 8), ('C', 7.5, 217), ('D', 358.5, 217), ('E', 7, 434), ('F', 358, 433), ('G', 10, 653), ('H', 361, 654)]:
    px_text(x, y, s, fontsize=10.5, fontweight='bold', color='#222222')

fig.savefig('out.png', dpi=100)
